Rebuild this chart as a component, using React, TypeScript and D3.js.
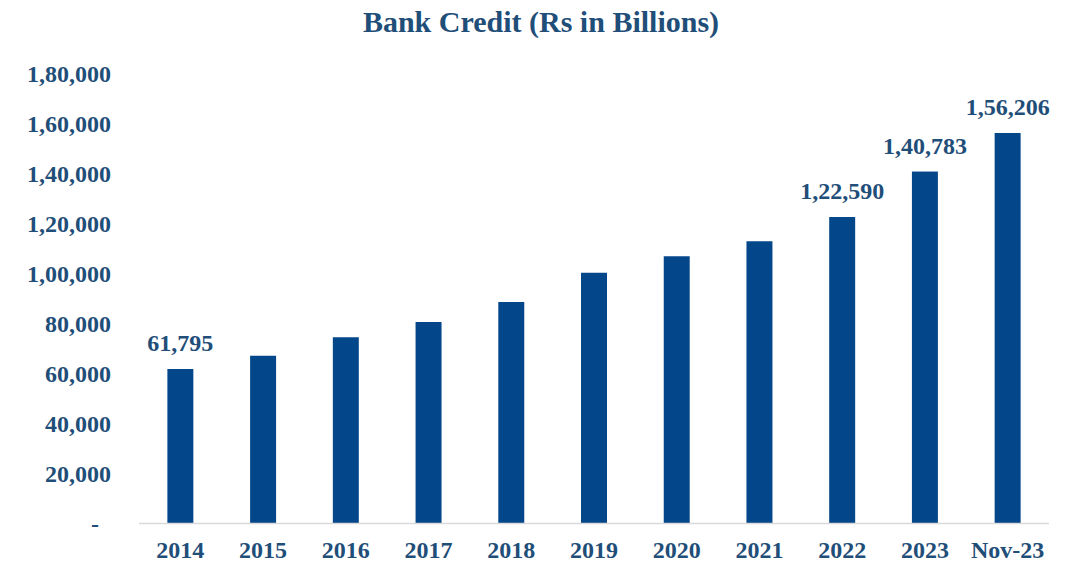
import * as d3 from "d3"
import { useRef, useEffect } from "react"

const categories = ["2014", "2015", "2016", "2017", "2018", "2019", "2020", "2021", "2022", "2023", "Nov-23"]
const credit = [61795, 67100, 74500, 80600, 88600, 100300, 106900, 112900, 122590, 140783, 156206]
const labelled = ["2014", "2022", "2023", "Nov-23"]
const yTicks = [0, 20000, 40000, 60000, 80000, 100000, 120000, 140000, 160000, 180000]

const WIDTH = 1077
const HEIGHT = 564
const TEXT = "#1F4E79"
const BAR = "#03478A"
const FONT = "'Liberation Serif', 'Times New Roman', serif"

// Indian grouping: 1,56,206
const fmtIndian = (v: number) => {
  if (v === 0) return "-"
  const s = Math.round(v).toString()
  if (s.length <= 3) return s
  const last3 = s.slice(-3)
  const rest = s.slice(0, -3).replace(/\B(?=(\d{2})+(?!\d))/g, ",")
  return `${rest},${last3}`
}

export default function App() {
  const svgRef = useRef<SVGSVGElement>(null)

  useEffect(() => {
    if (!svgRef.current) return
    const svg = d3.select(svgRef.current)
    svg.selectAll("*").remove()

    const margin = { top: 73.5, right: 28, bottom: 40.5, left: 139 }

    const x = d3
      .scaleBand()
      .domain(categories)
      .range([margin.left, WIDTH - margin.right])
      .paddingInner(0.686)
      .paddingOuter(0.343)

    const y = d3
      .scaleLinear()
      .domain([0, 180000])
      .range([HEIGHT - margin.bottom, margin.top])

    svg
      .append("rect")
      .attr("width", WIDTH)
      .attr("height", HEIGHT)
      .attr("fill", "#FFFFFF")

    svg
      .append("text")
      .attr("x", 541)
      .attr("y", 32)
      .attr("text-anchor", "middle")
      .style("font-family", FONT)
      .style("font-weight", "bold")
      .style("font-size", "30px")
      .style("fill", TEXT)
      .text("Bank Credit (Rs in Billions)")

    // y axis labels
    svg
      .append("g")
      .attr("transform", `translate(${margin.left - 28},0)`)
      .call(d3.axisLeft(y).tickValues(yTicks).tickSize(0).tickPadding(0).tickFormat((d) => fmtIndian(d as number)))
      .call((g) => g.select(".domain").remove())
      .call((g) =>
        g
          .selectAll<SVGTextElement, number>("text")
          .style("font-size", "24px")
          .style("font-family", FONT)
          .style("font-weight", "bold")
          .style("fill", TEXT)
          .attr("x", (d) => (d === 0 ? -12 : 0))
          .attr("dy", "0.33em"),
      )

    svg
      .append("g")
      .selectAll("rect")
      .data(credit)
      .enter()
      .append("rect")
      .attr("x", (_, i) => x(categories[i]) || 0)
      .attr("width", x.bandwidth())
      .attr("y", (d) => y(d))
      .attr("height", (d) => y(0) - y(d))
      .attr("fill", BAR)

    // baseline
    svg
      .append("line")
      .attr("x1", margin.left)
      .attr("x2", WIDTH - margin.right)
      .attr("y1", y(0))
      .attr("y2", y(0))
      .attr("stroke", "#D9D9D9")
      .attr("stroke-width", 1.5)

    svg
      .append("g")
      .attr("transform", `translate(0,${y(0)})`)
      .call(d3.axisBottom(x).tickSize(0).tickPadding(0))
      .call((g) => g.select(".domain").remove())
      .call((g) =>
        g
          .selectAll("text")
          .style("font-size", "24px")
          .style("font-family", FONT)
          .style("font-weight", "bold")
          .style("fill", TEXT)
          .attr("dy", "1.42em"),
      )

    svg
      .append("g")
      .selectAll("text")
      .data(credit.map((v, i) => ({ v, c: categories[i] })).filter((d) => labelled.includes(d.c)))
      .enter()
      .append("text")
      .attr("x", (d) => (x(d.c) || 0) + x.bandwidth() / 2)
      .attr("y", (d) => y(d.v) - 18)
      .attr("text-anchor", "middle")
      .style("font-size", "24px")
      .style("font-family", FONT)
      .style("font-weight", "bold")
      .style("fill", TEXT)
      .text((d) => fmtIndian(d.v))
  }, [])

  return (
    <div style={{ position: "absolute", left: 0, top: 0, width: WIDTH, height: HEIGHT }}>
      <svg ref={svgRef} width={WIDTH} height={HEIGHT}></svg>
    </div>
  )
}
